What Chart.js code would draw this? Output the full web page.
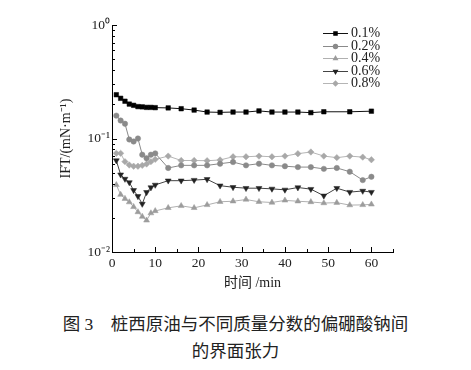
<!DOCTYPE html>
<html><head><meta charset="utf-8">
<script src="https://cdn.jsdelivr.net/npm/chart.js@4"></script>
<style>
html,body{margin:0;padding:0;background:#fff;}
#wrap{position:relative;width:471px;height:370px;background:#fff;}
#c{position:absolute;left:0;top:0;}
#cap{position:absolute;left:0;top:311px;width:471px;text-align:center;font-family:"Liberation Serif","Noto Sans CJK SC";font-size:17.5px;line-height:27px;color:#222;}
</style></head><body>
<div id="wrap"><canvas id="c" width="471" height="300"></canvas>
<div id="cap">图 3&emsp;桩西原油与不同质量分数的偏硼酸钠间<br>的界面张力</div></div>
<script>
const seriesNames = ['0.1%', '0.2%', '0.4%', '0.6%', '0.8%'];
const time01 = [1,2,3,4,5,6,7,8,9,10,13,16,19,22,25,28,31,34,37,40,43,46,49,55,60];
const timeAll = [1,2,3,4,5,6,7,8,9,10,13,16,19,22,25,28,31,34,37,40,43,46,49,52,55,58,60];
const ift01 = [0.243,0.226,0.213,0.201,0.196,0.191,0.190,0.188,0.188,0.187,0.186,0.183,0.178,0.171,0.170,0.171,0.171,0.175,0.171,0.171,0.171,0.169,0.172,0.172,0.174];
const ift02 = [0.159,0.144,0.135,0.098,0.094,0.100,0.072,0.067,0.072,0.074,0.055,0.058,0.058,0.058,0.060,0.062,0.058,0.060,0.058,0.057,0.056,0.056,0.054,0.055,0.051,0.043,0.046];
const ift04 = [0.039,0.032,0.0295,0.0275,0.025,0.0225,0.0205,0.019,0.022,0.023,0.0245,0.0255,0.0245,0.026,0.0277,0.028,0.029,0.0277,0.0273,0.0285,0.028,0.0276,0.027,0.0272,0.0259,0.026,0.0263];
const ift06 = [0.064,0.048,0.044,0.041,0.035,0.031,0.0265,0.0336,0.037,0.039,0.0425,0.0425,0.043,0.0437,0.0384,0.0372,0.0365,0.0365,0.036,0.0353,0.037,0.0358,0.0313,0.0365,0.0337,0.0345,0.0337];
const ift08 = [0.074,0.074,0.0625,0.0584,0.057,0.057,0.058,0.0596,0.0625,0.0655,0.070,0.064,0.064,0.0637,0.0647,0.069,0.069,0.070,0.069,0.070,0.0735,0.076,0.070,0.0678,0.070,0.0685,0.065];
const xTicks = [0,10,20,30,40,50,60];
const yTicks = [0.01,0.1,1];
const yTickLabels = ['10\u207B\u00B2','10\u207B\u00B9','10\u2070'];
const xTitle = '时间 /min';
const yTitle = 'IFT/(mN·m\u207B\u00B9)';

const styles = [
  {line:'#111', point:'#000', shape:'rect', r:3.2, rot:0},
  {line:'#8a8a8a', point:'#8a8a8a', shape:'circle', r:2.7, rot:0},
  {line:'#b0b0b0', point:'#9c9c9c', shape:'triangle', r:3.4, rot:0},
  {line:'#444', point:'#222', shape:'triangle', r:3.4, rot:180},
  {line:'#b5b5b5', point:'#a8a8a8', shape:'rectRot', r:3.2, rot:0}
];
const times = [time01, timeAll, timeAll, timeAll, timeAll];
const values = [ift01, ift02, ift04, ift06, ift08];

const datasets = seriesNames.map((name, k) => ({
  label: name,
  data: times[k].map((t, i) => ({x: t, y: values[k][i]})),
  borderColor: styles[k].line,
  backgroundColor: styles[k].point,
  pointBackgroundColor: styles[k].point,
  pointBorderColor: styles[k].point,
  pointStyle: styles[k].shape,
  pointRotation: styles[k].rot,
  pointRadius: styles[k].r,
  pointBorderWidth: 0.5,
  borderWidth: 1,
  tension: 0,
  fill: false
}));

function drawMarker(ctx, s, x, y) {
  ctx.fillStyle = s.point;
  ctx.beginPath();
  const r = s.r;
  if (s.shape === 'rect') { const h = r * Math.SQRT1_2; ctx.rect(x - h, y - h, 2*h, 2*h); }
  else if (s.shape === 'circle') { ctx.arc(x, y, r, 0, Math.PI*2); }
  else if (s.shape === 'rectRot') { ctx.moveTo(x, y - r); ctx.lineTo(x + r, y); ctx.lineTo(x, y + r); ctx.lineTo(x - r, y); ctx.closePath(); }
  else if (s.shape === 'triangle') {
    const dir = s.rot ? -1 : 1;
    ctx.moveTo(x, y - dir * r);
    ctx.lineTo(x + r * 0.866, y + dir * r * 0.5);
    ctx.lineTo(x - r * 0.866, y + dir * r * 0.5);
    ctx.closePath();
  }
  ctx.fill();
}

const legendPlugin = {
  id: 'originLegend',
  afterDraw(chart) {
    const ctx = chart.ctx;
    ctx.save();
    ctx.font = '14px "Liberation Serif"';
    ctx.textBaseline = 'middle';
    ctx.textAlign = 'left';
    seriesNames.forEach((name, k) => {
      const y = 33 + k * 12.5;
      const s = styles[k];
      ctx.strokeStyle = s.line; ctx.lineWidth = 1;
      ctx.beginPath(); ctx.moveTo(323, Math.round(y) + 0.5); ctx.lineTo(348, Math.round(y) + 0.5); ctx.stroke();
      drawMarker(ctx, s, 335.5, Math.round(y) + 0.5);
      ctx.fillStyle = '#222';
      ctx.fillText(name, 351, y + 0.5);
    });
    ctx.restore();
  }
};

const innerTicks = {
  id: 'innerTicks',
  afterDraw(chart) {
    const {ctx, chartArea: a, scales: {x, y}} = chart;
    ctx.save(); ctx.strokeStyle = '#000'; ctx.lineWidth = 1;
    ctx.beginPath();
    for (let d = -2; d <= 0; d++) {
      for (let m = 1; m <= 9; m++) {
        const v = m * Math.pow(10, d);
        if (v > 1.0001) break;
        const py = Math.round(y.getPixelForValue(v)) + 0.5;
        const len = m === 1 ? 5 : 3;
        ctx.moveTo(a.left, py); ctx.lineTo(a.left + len, py);
      }
    }
    for (let v = 0; v <= 65; v += 5) {
      const px = Math.round(x.getPixelForValue(v)) + 0.5;
      const len = v % 10 === 0 ? 5 : 3;
      ctx.moveTo(px, a.bottom); ctx.lineTo(px, a.bottom - len);
    }
    ctx.stroke(); ctx.restore();
  }
};

new Chart(document.getElementById('c'), {
  type: 'line',
  data: {datasets},
  options: {
    responsive: false,
    animation: false,
    devicePixelRatio: 1,
    layout: {padding: {left: 0, right: 78, top: 25, bottom: 0}},
    plugins: {legend: {display: false}, tooltip: {enabled: false}},
    scales: {
      x: {
        type: 'linear', min: 0, max: 65,
        afterBuildTicks: s => { s.ticks = xTicks.map(v => ({value: v})); },
        afterFit: s => { s.height = 48; },
        grid: {display: false, drawTicks: false},
        border: {display: true, color: '#000', width: 1},
        ticks: {color: '#222', font: {family: 'Liberation Serif', size: 13.5}, padding: 3, maxRotation: 0, autoSkip: false},
        title: {display: true, text: xTitle, color: '#222', font: {family: '"Liberation Serif", "Noto Sans CJK SC"', size: 14}, padding: {top: 0, bottom: 8}}
      },
      y: {
        type: 'logarithmic', min: 0.01, max: 1,
        afterBuildTicks: s => { s.ticks = yTicks.map(v => ({value: v})); },
        afterFit: s => { s.width = 112; },
        grid: {display: false, drawTicks: false},
        border: {display: true, color: '#000', width: 1},
        ticks: {color: '#222', font: {family: 'Liberation Serif', size: 13.5}, padding: 2, autoSkip: false,
          callback: v => { const i = yTicks.indexOf(v); return i >= 0 ? yTickLabels[i] : ''; }},
        title: {display: true, text: yTitle, color: '#222', font: {family: 'Liberation Serif', size: 14}, padding: {top: 58, bottom: 0}}
      }
    }
  },
  plugins: [innerTicks, legendPlugin]
});
</script>
</body></html>
